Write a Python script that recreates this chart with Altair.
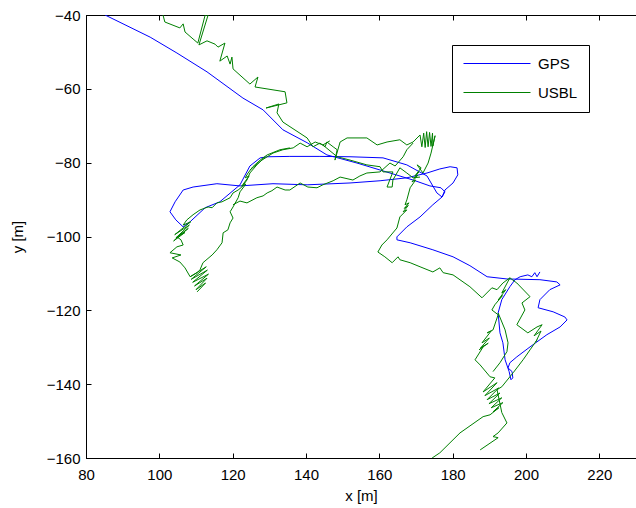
import altair as alt
import pandas as pd

# ---------------- data (metres) ----------------
x_ticks = [80, 100, 120, 140, 160, 180, 200, 220]
y_ticks = [-160, -140, -120, -100, -80, -60, -40]
series_names = ["GPS", "USBL"]
series_colors = ["#0000ff", "#008000"]

gps_x = [85.2, 97.5, 104.8, 113.0, 122.8, 128.3, 133.7, 140.3, 145.7, 153.9, 162.9, 169.2, 173.8, 176.8,
         177.9, 177.1, 175.7, 173.0, 167.5, 161.0, 152.0, 143.8, 135.6, 129.6, 127.5, 124.7, 122.0, 116.5,
         112.5, 108.4, 106.5, 104.5, 102.9, 104.3, 106.5, 109.2, 115.7, 122.0, 131.0, 140.3, 152.0, 160.2,
         167.5, 173.0, 176.5, 179.3, 181.2, 181.4, 180.1, 177.9, 177.1, 174.6, 171.1, 167.5, 164.8, 164.8,
         168.4, 174.6, 180.1, 184.7, 189.4, 194.8, 203.8, 208.4, 209.3, 206.5, 203.8, 203.3, 207.4, 210.6,
         211.2, 209.3, 205.7, 201.1, 197.5, 195.6, 195.1, 196.2, 196.4, 195.9, 195.4, 194.3, 193.7, 192.9,
         192.4, 193.4, 195.6, 197.0, 198.4, 200.5, 201.6, 202.4, 203.0, 203.8]
gps_y = [-40.0, -46.0, -50.3, -55.4, -62.5, -65.7, -71.1, -74.6, -77.9, -80.1, -82.8, -84.7, -86.3, -86.8,
         -87.9, -89.3, -88.2, -83.6, -80.6, -78.7, -78.4, -78.3, -78.3, -78.4, -78.7, -80.9, -86.0, -90.6,
         -92.2, -96.0, -97.4, -95.5, -93.3, -90.6, -87.4, -86.6, -85.7, -86.3, -85.7, -86.0, -85.5, -84.9,
         -84.1, -82.8, -81.7, -81.1, -81.4, -83.3, -85.5, -87.4, -89.3, -91.4, -94.7, -97.4, -100.1, -100.9,
         -101.7, -103.6, -105.5, -107.9, -110.9, -111.5, -111.7, -112.3, -113.1, -114.4, -117.1, -119.3, -120.4, -121.8,
         -122.6, -124.5, -126.6, -129.9, -132.6, -134.2, -135.6, -136.6, -138.3, -138.8, -136.6, -133.4, -128.8, -126.1,
         -120.7, -117.1, -113.6, -111.7, -110.9, -110.4, -110.9, -109.8, -110.9, -109.6]

# USBL track pieces, (x, y) pairs
usbl_track_main = [
    (101.0, -40.0), (101.5, -41.9), (105.6, -43.5), (106.5, -42.4), (107.0, -44.6), (109.2, -46.5), (110.5, -47.6),
    (112.5, -40.0), (113.3, -40.0), (110.8, -48.1), (113.0, -47.0), (115.2, -47.9), (116.0, -48.7), (117.9, -47.6),
    (116.5, -52.5), (118.5, -51.1), (119.3, -53.3), (119.8, -51.4), (120.1, -54.6), (124.7, -58.7), (126.9, -56.8),
    (126.1, -59.5), (134.3, -60.8), (134.8, -63.8), (129.1, -65.2), (132.6, -64.1), (132.1, -66.5), (133.7, -69.0),
    (140.3, -73.3), (141.9, -75.7), (143.8, -74.7), (145.2, -75.7), (145.7, -74.4), (147.4, -75.7), (148.5, -76.5),
    (147.9, -79.3), (149.3, -74.4), (151.2, -73.3), (156.6, -73.3), (159.4, -75.2), (162.1, -74.4), (165.6, -73.8),
    (167.5, -75.2), (169.2, -74.4), (171.1, -72.5), (171.6, -75.7), (172.1, -72.0), (172.5, -75.9), (172.9, -71.6),
    (173.3, -75.7), (173.7, -71.8), (174.1, -75.6), (174.5, -72.0), (174.6, -75.5), (175.2, -72.7), (174.1, -77.4),
    (173.3, -80.1), (171.9, -82.8), (170.3, -80.6), (171.4, -81.4), (169.7, -83.6), (170.8, -82.5), (169.4, -84.2),
    (170.5, -83.4), (168.9, -85.2), (169.9, -84.7), (168.4, -86.8), (167.5, -90.1), (167.0, -91.4), (168.1, -90.9),
    (166.8, -92.4), (167.9, -91.6), (166.5, -93.3), (167.5, -92.8), (165.6, -94.7), (164.8, -97.7), (162.1, -100.9),
    (160.7, -102.3), (159.6, -104.2), (161.5, -105.5), (163.5, -107.1), (165.1, -105.5), (165.6, -106.3),
    (168.4, -107.1), (171.1, -108.2), (174.6, -109.6), (176.5, -108.5), (177.4, -109.8), (180.1, -110.4),
    (184.7, -113.6), (188.0, -116.6), (190.7, -113.9), (192.1, -114.4), (193.7, -112.6), (195.6, -111.2),
    (197.5, -112.6), (201.1, -116.3), (198.9, -118.0), (199.7, -119.9), (197.5, -123.9), (200.5, -126.1),
    (203.0, -124.5), (204.4, -123.9), (202.2, -126.9), (204.1, -125.6), (202.7, -128.5), (203.0, -128.0),
    (201.1, -130.7), (199.2, -133.4), (196.5, -136.9), (193.4, -140.7), (192.1, -141.5), (193.4, -147.7),
    (194.8, -150.5), (192.4, -153.2), (191.0, -154.2), (192.4, -154.5), (187.5, -157.8),
]
usbl_track_west_chain = [
    (195.6, -111.2), (193.4, -115.3), (194.5, -114.4), (192.4, -117.2), (193.6, -116.0), (191.5, -118.5),
    (190.7, -119.9), (192.4, -121.2), (191.0, -125.3), (189.4, -126.1), (190.5, -125.6), (188.0, -128.8),
    (190.0, -127.5), (187.6, -130.2), (189.7, -128.9), (187.2, -130.7), (188.5, -129.6), (186.1, -133.4),
    (187.5, -134.8), (190.2, -138.0), (191.5, -138.3), (188.3, -142.1), (192.1, -139.6), (188.8, -143.1),
    (192.6, -141.0), (189.4, -144.2), (192.9, -142.4), (189.9, -145.3), (193.4, -143.7), (190.5, -146.4),
    (193.7, -145.0), (191.0, -147.5), (192.6, -146.4), (190.2, -148.3), (188.3, -148.8), (182.0, -153.2),
    (176.5, -158.6), (174.4, -160.0),
]
usbl_track_middle = [
    (192.4, -120.7), (194.3, -125.3), (195.1, -128.8), (194.8, -131.2), (192.9, -134.2), (191.0, -136.6),
]
usbl_track_left_outer = [
    (135.6, -76.0), (132.9, -76.5), (129.4, -77.9), (127.5, -79.3), (125.5, -81.1), (124.2, -82.8), (123.4, -84.1),
    (124.5, -83.6), (122.5, -86.3), (123.6, -85.8), (122.0, -87.9), (121.5, -89.5), (120.1, -92.0), (119.3, -93.3),
    (120.1, -95.0), (119.3, -96.3), (118.7, -98.2), (117.4, -99.0), (117.1, -101.7), (115.7, -103.6),
    (114.4, -105.0), (111.9, -107.1), (111.1, -109.0), (110.3, -109.8), (108.4, -110.9), (112.8, -108.2),
    (108.7, -111.6), (113.1, -109.1), (109.1, -112.4), (113.4, -110.2), (109.6, -113.4), (113.0, -111.3),
    (110.0, -114.4), (112.6, -112.6), (110.3, -115.0),
]
usbl_track_left_inner = [
    (128.8, -78.4), (126.6, -80.6), (124.7, -82.8), (123.9, -84.7), (122.5, -86.6), (121.5, -87.4), (120.1, -88.2),
    (119.3, -89.5), (117.1, -90.6), (115.7, -90.9), (114.4, -92.2), (113.3, -92.0), (111.1, -92.8), (109.2, -94.1),
    (107.5, -95.5), (106.5, -96.9), (108.6, -96.0), (104.2, -99.5), (108.2, -96.9), (104.5, -100.4),
    (107.9, -97.8), (103.9, -101.2), (107.0, -98.9), (104.8, -100.1), (105.9, -100.9), (106.5, -102.3),
    (104.8, -102.8), (102.9, -104.4), (105.9, -105.0), (103.5, -105.8), (105.6, -106.9), (107.0, -108.5),
    (108.4, -110.9),
]
usbl_track_lower_band = [
    (120.1, -91.4), (122.0, -90.4), (123.9, -90.9), (126.6, -89.5), (128.3, -89.0), (129.4, -88.2), (130.7, -87.6),
    (132.1, -86.6), (134.3, -87.4), (135.6, -87.4), (138.4, -85.5), (140.5, -86.6), (143.0, -86.8), (144.6, -86.0),
    (147.4, -84.9), (149.3, -83.9), (152.8, -84.7), (154.7, -83.6), (156.6, -82.8), (160.2, -82.5), (162.9, -80.1),
    (164.3, -80.9), (166.5, -78.4), (167.5, -76.5), (169.2, -74.7),
]
usbl_track_cross = [
    (144.6, -75.2), (148.5, -78.4), (152.0, -79.3), (156.6, -80.6), (160.2, -81.1), (161.0, -82.5), (163.7, -82.5),
    (162.1, -86.6), (163.5, -86.6), (163.7, -84.7), (165.6, -81.4), (167.5, -82.8), (169.2, -84.1), (171.1, -83.9),
]
usbl_track_upper_band = [
    (124.7, -82.0), (128.0, -79.3), (131.0, -77.4), (133.7, -76.5), (136.5, -76.0), (138.4, -74.7), (140.3, -75.7),
    (142.5, -74.4), (144.6, -75.2), (146.5, -74.1),
]

# ---------------- tables ----------------
gps_df = pd.DataFrame({"x": gps_x, "y": gps_y})
gps_df["series"] = "GPS"
gps_df["seg"] = "g0"
gps_df["idx"] = range(len(gps_df))

usbl_pieces = [usbl_track_main, usbl_track_west_chain, usbl_track_middle, usbl_track_left_outer,
               usbl_track_left_inner, usbl_track_lower_band, usbl_track_cross, usbl_track_upper_band]
rows = []
for k, piece in enumerate(usbl_pieces):
    for i, (xv, yv) in enumerate(piece):
        rows.append({"x": xv, "y": yv, "series": "USBL", "seg": f"u{k}", "idx": i})
usbl_df = pd.DataFrame(rows)

FONT = "Liberation Sans"

x_scale = alt.Scale(domain=[80, 230], nice=False, zero=False)
y_scale = alt.Scale(domain=[-160, -40], nice=False, zero=False)
color_scale = alt.Scale(domain=series_names, range=series_colors)

x_axis = alt.Axis(values=x_ticks, format="d", title="x [m]", grid=False, orient="bottom",
                  tickSize=alt.ExprRef("-5"), labelPadding=14, tickColor="black",
                  domainColor="black", labelColor="black", labelFont=FONT, labelFontSize=15,
                  titleFont=FONT, titleFontSize=15, titleFontWeight="normal", titleColor="black",
                  titlePadding=6, labelFlush=False)
y_axis = alt.Axis(values=y_ticks, format="d", title="y [m]", grid=False,
                  tickSize=alt.ExprRef("-5"), labelPadding=11, tickColor="black",
                  domainColor="black", labelColor="black", labelFont=FONT, labelFontSize=15,
                  titleFont=FONT, titleFontSize=15, titleFontWeight="normal", titleColor="black",
                  titlePadding=21, labelFlush=False)
top_axis = alt.Axis(values=x_ticks, orient="top", labels=False, title=None, grid=False,
                    tickSize=alt.ExprRef("-5"), tickColor="black", domain=False)

legend = alt.Legend(title=None, orient="none", legendX=366, legendY=30,
                    symbolType="stroke", symbolSize=4489, symbolStrokeWidth=1, clipHeight=15,
                    labelFont=FONT, labelFontSize=15, labelColor="black", labelOffset=7,
                    padding=11, rowPadding=13, strokeColor="black", fillColor="white",
                    cornerRadius=0)

gps_layer = alt.Chart(gps_df).mark_line(clip=True, strokeWidth=1).encode(
    x=alt.X("x:Q", scale=x_scale, axis=x_axis),
    y=alt.Y("y:Q", scale=y_scale, axis=y_axis),
    color=alt.Color("series:N", scale=color_scale, legend=legend),
    detail="seg:N",
    order="idx:Q",
)
usbl_layer = alt.Chart(usbl_df).mark_line(clip=True, strokeWidth=1).encode(
    x=alt.X("x:Q", scale=x_scale, axis=top_axis),
    y=alt.Y("y:Q", scale=y_scale, axis=y_axis),
    color=alt.Color("series:N", scale=color_scale, legend=legend),
    detail="seg:N",
    order="idx:Q",
)

chart = alt.layer(gps_layer, usbl_layer).resolve_axis(x="independent").properties(
    width=550, height=443, autosize="none",
    padding={"left": 86, "top": 15, "right": 0, "bottom": 50},
    background="white",
).configure_view(stroke="black", strokeWidth=1)

chart.save("out.html", embed_options={"renderer": "svg", "actions": False})
